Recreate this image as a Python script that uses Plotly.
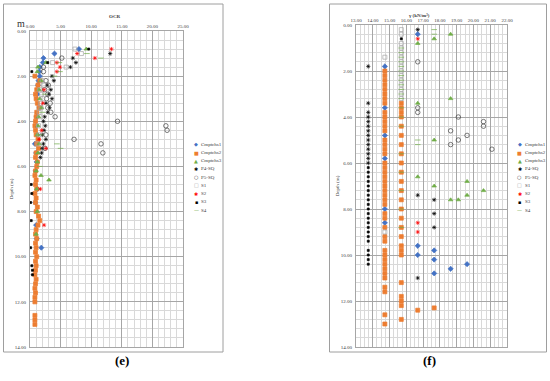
import plotly.graph_objects as go

# ---------------- DATA : left panel (OCR) ----------------
L_cm1_d = [0.8, 1.0, 1.2, 1.4, 1.6, 1.8, 2.0, 2.2, 2.4, 2.8, 3.4, 3.8, 4.2, 4.6, 5.0, 5.4, 5.8, 6.2, 7.0, 7.6, 8.6, 9.2, 9.6]
L_cm1_x = [8.0, 4.0, 2.2, 2.1, 1.6, 1.5, 1.6, 1.4, 1.3, 1.2, 1.6, 1.1, 1.0, 1.2, 0.8, 1.0, 1.1, 0.9, 1.2, 0.9, 1.0, 1.1, 1.85]

L_cm2_d = [2.0, 2.2, 2.4, 2.6, 2.8, 3.0, 3.2, 3.4, 3.6, 3.8, 4.0, 4.2, 4.4, 4.6, 4.8, 5.0, 5.2, 5.4, 5.6, 5.8,
           6.0, 6.2, 6.4, 6.6, 6.8, 7.0, 7.2, 7.4, 7.6, 7.8, 8.0, 8.2, 8.4, 8.6, 8.8, 9.0, 9.2, 9.4, 9.6, 9.8,
           10.0, 10.2, 10.4, 10.6, 10.8, 11.0, 11.2, 11.4, 11.6, 11.8, 12.0, 12.6, 12.8, 13.0]
L_cm2_x = [0.8, 1.6, 1.3, 1.1, 0.9, 1.0, 1.2, 1.5, 1.1, 1.0, 0.9, 0.8, 0.9, 1.0, 1.3, 1.1, 1.4, 1.0, 0.9, 1.2,
           1.1, 0.9, 0.8, 1.0, 0.9, 1.1, 0.8, 1.0, 0.9, 1.2, 1.0, 1.4, 1.6, 1.3, 1.0, 0.9, 1.1, 0.9, 1.0, 0.9,
           1.1, 0.9, 1.0, 0.9, 0.8, 1.0, 0.9, 0.8, 0.9, 0.8, 0.8, 0.8, 0.8, 0.8]

L_cm3_d = [0.8, 1.4, 1.6, 1.8, 2.2, 2.6, 3.0, 3.4, 3.8, 4.2, 4.6, 5.0, 5.4, 5.8, 6.2, 6.4, 6.6, 7.0, 8.0, 9.0]
L_cm3_x = [9.2, 2.6, 1.3, 1.2, 1.8, 1.5, 1.6, 1.9, 1.4, 1.3, 1.2, 1.5, 1.3, 1.2, 1.0, 1.8, 3.1, 1.1, 1.2, 1.0]

L_p4_d = [1.0, 1.2, 1.4, 1.6, 2.0, 2.2, 2.4, 2.6, 2.8, 3.0, 3.2, 3.4, 3.6, 3.8, 4.0, 4.2, 4.4, 4.6, 4.8, 5.0, 5.2, 5.4, 5.6]
L_p4_x = [13.1, 7.0, 7.5, 6.6, 3.6, 3.9, 2.8, 3.4, 3.1, 3.6, 2.6, 3.2, 2.9, 2.4, 2.2, 2.5, 2.3, 2.0, 2.6, 2.2, 2.0, 1.9, 1.7]

L_p5_d = [1.2, 1.6, 1.8, 2.2, 2.4, 2.6, 2.8, 3.0, 3.2, 3.4, 3.6, 3.8, 4.0, 4.2, 4.4, 4.6, 4.8, 5.0, 5.2, 5.4]
L_p5_x = [5.2, 2.2, 2.2, 2.6, 3.0, 2.4, 2.9, 2.7, 3.3, 2.9, 3.4, 4.1, 14.3, 22.2, 22.4, 2.6, 7.2, 11.6, 2.45, 11.9]

L_s1_d = [0.8, 1.0, 1.4, 1.6, 2.2, 2.4, 2.6, 2.8, 3.0, 3.2, 3.4, 3.6, 3.8, 4.2, 4.6, 5.0]
L_s1_x = [7.35, 8.4, 3.7, 5.9, 2.0, 2.2, 1.6, 1.9, 2.1, 1.7, 1.8, 1.5, 1.6, 1.4, 1.5, 1.3]

L_s2_d = [0.8, 1.0, 1.2, 1.4, 1.6, 1.8, 2.6, 3.2, 4.4, 4.8, 5.2, 7.0, 8.6]
L_s2_x = [13.3, 7.7, 10.6, 4.4, 4.9, 4.4, 2.3, 2.1, 1.9, 1.5, 2.6, 1.7, 2.3]

L_s3_d = [0.8, 1.4, 1.8, 6.8, 7.2, 7.6, 8.4, 9.6, 10.4, 10.6, 10.8]
L_s3_x = [9.6, 2.9, 0.3, 0.2, 0.3, 0.1, 0.2, 0.1, 0.3, 0.4, 0.4]

L_s4_d = [1.0, 1.2, 1.4, 1.8, 2.0, 2.8, 3.6, 4.6, 5.0, 5.2, 6.0]
L_s4_x = [9.3, 11.6, 4.8, 4.9, 4.0, 2.4, 2.0, 1.7, 4.4, 5.0, 1.6]

# ---------------- DATA : right panel (unit weight) ----------------
R_cm1_d = [0.4, 1.8, 3.6, 4.8, 5.8, 8.0, 8.6, 9.6, 9.8, 10.0, 10.2, 10.4, 10.6, 10.8]
R_cm1_x = [16.68, 14.72, 14.72, 14.72, 14.72, 14.72, 14.72, 16.68, 17.66, 16.68, 17.66, 19.62, 18.64, 17.66]

R_cm2_d = [2.0, 2.2, 2.4, 2.6, 2.8, 3.0, 3.2, 3.4, 3.8, 4.0, 4.2, 4.4, 4.6, 5.0, 5.2, 5.4, 5.6, 6.0, 6.2, 6.4,
           6.6, 6.8, 7.0, 7.2, 7.4, 7.6, 7.8, 8.2, 8.4, 8.8, 9.2, 9.4, 9.8, 10.0, 10.2, 10.4, 10.6, 10.8, 11.0,
           11.4, 11.6, 12.6, 13.0,
           3.4, 3.6, 3.8, 4.0, 4.4, 4.8, 5.2, 5.6, 6.0, 6.4, 6.8, 7.2, 7.6, 8.0, 8.4, 8.8, 9.2, 9.6, 9.8, 10.0,
           11.2, 11.8, 12.0, 12.2, 12.8, 12.4, 12.3]
R_cm2_x = [14.72] * 43 + [15.70] * 25 + [16.68, 17.66]

R_cm3_d = [0.4, 0.6, 0.8, 3.2, 3.4, 5.0, 6.6, 7.0, 7.6, 7.6, 7.4, 6.8, 7.2]
R_cm3_x = [18.64, 17.66, 16.68, 18.64, 16.68, 17.66, 16.68, 17.66, 18.64, 19.1, 19.62, 19.62, 20.60]

R_p4_d = [1.8, 3.4, 3.8, 4.0, 4.2, 4.4, 4.6, 4.8, 5.0, 5.2, 5.4, 5.6, 5.8, 6.0, 0.2, 7.4, 7.6, 8.2, 8.8, 11.0]
R_p4_x = [13.73] * 14 + [16.68, 16.68, 17.66, 17.66, 17.66, 16.68]

R_p5_d = [1.6, 3.6, 3.8, 4.0, 4.2, 4.4, 4.6, 4.8, 5.0, 5.2, 5.4]
R_p5_x = [16.68, 16.68, 16.68, 19.1, 20.6, 20.6, 18.64, 19.62, 19.1, 18.64, 21.1]

R_s1_d = [0.2, 0.4, 0.8, 1.0, 1.2, 1.4, 1.6, 1.8, 2.0, 2.2, 2.4, 2.6, 2.8, 3.0, 3.2, 1.4, 9.0]
R_s1_x = [15.70] * 15 + [14.72, 14.72]

R_s2_d = [0.6, 8.6, 9.0]
R_s2_x = [16.68, 16.68, 16.68]

R_s3_d = [6.2, 6.4, 6.6, 6.8, 7.0, 7.2, 7.4, 7.6, 7.8, 8.0, 8.2, 8.4, 8.6, 8.8, 9.0, 9.2, 9.4, 9.8, 10.0, 10.2, 10.4, 0.6]
R_s3_x = [13.73] * 21 + [15.70]

R_s4_d = [0.2, 0.4, 5.0, 5.2, 1.0, 1.2, 1.4, 1.6, 1.8, 2.0, 2.2, 2.4, 2.6, 2.8, 3.0, 3.2, 3.6, 4.0, 4.4, 5.6, 6.4, 7.2, 8.0, 8.8]
R_s4_x = [17.66, 17.66, 16.68, 16.68] + [15.70] * 20

names = ["Cmptchs1", "Cmptchs2", "Cmptchs3", "P4-SQ", "P5-SQ", "S1", "S2", "S3", "S4"]
colors = ["#4472C4", "#ED7D31", "#70AD47", "#000000", "#404040", "#A5A5A5", "#FF0000", "#000000", "#70AD47"]
symbols = ["diamond", "square", "triangle-up", "asterisk-open", "circle-open", "square-open", "asterisk-open", "square", "line-ew-open"]
sizes = [4, 4, 4, 3.5, 4.5, 4, 3.5, 2, 4]
legend_glyph = ["◆", "■", "▲", "✱", "○", "□", "✱", "▪", "—"]

left_sets = [(L_cm1_x, L_cm1_d), (L_cm2_x, L_cm2_d), (L_cm3_x, L_cm3_d), (L_p4_x, L_p4_d), (L_p5_x, L_p5_d),
             (L_s1_x, L_s1_d), (L_s2_x, L_s2_d), (L_s3_x, L_s3_d), (L_s4_x, L_s4_d)]
right_sets = [(R_cm1_x, R_cm1_d), (R_cm2_x, R_cm2_d), (R_cm3_x, R_cm3_d), (R_p4_x, R_p4_d), (R_p5_x, R_p5_d),
              (R_s1_x, R_s1_d), (R_s2_x, R_s2_d), (R_s3_x, R_s3_d), (R_s4_x, R_s4_d)]

W, H = 550, 381
def px(x): return x / W
def py(y): return 1 - y / H

fig = go.Figure()
for i, n in enumerate(names):
    for (xs, ds), xa, ya in [(left_sets[i], "x", "y"), (right_sets[i], "x2", "y2")]:
        fig.add_trace(go.Scatter(
            x=xs, y=ds, mode="markers", name=n, showlegend=False, xaxis=xa, yaxis=ya,
            marker=dict(symbol=symbols[i], size=sizes[i], color=colors[i],
                        line=dict(width=0.7, color=colors[i]))))

FONT = "Liberation Serif"
grid_major = "#A6A6A6"
grid_minor = "#D9D9D9"
common = dict(showgrid=True, gridcolor=grid_major, gridwidth=0.8, zeroline=False, ticks="",
              showline=True, linecolor=grid_major, linewidth=0.8, mirror=True, automargin=False,
              tickfont=dict(size=5, family=FONT, color="#404040"), tickformat=".2f")

fig.update_layout(
    width=W, height=H, margin=dict(l=0, r=0, t=0, b=0, autoexpand=False),
    paper_bgcolor="white", plot_bgcolor="white", showlegend=False,
    xaxis=dict(domain=[px(30), px(183)], range=[0, 25], dtick=5, side="top", anchor="y",
               minor=dict(dtick=1, showgrid=True, gridcolor=grid_minor, gridwidth=0.6), **common),
    yaxis=dict(domain=[py(347), py(31)], range=[14, 0], dtick=2, anchor="x", ticklabelstandoff=2,
               minor=dict(dtick=0.4, showgrid=True, gridcolor=grid_minor, gridwidth=0.6),
               title=dict(text="Depth (m)", font=dict(size=5, family=FONT, color="#404040"), standoff=1),
               **common),
    xaxis2=dict(domain=[px(356), px(507)], range=[13, 22], dtick=1, side="top", anchor="y2",
                minor=dict(dtick=0.25, showgrid=True, gridcolor=grid_minor, gridwidth=0.6), **common),
    yaxis2=dict(domain=[py(347), py(25)], range=[14, 0], dtick=2, anchor="x2", ticklabelstandoff=2,
                minor=dict(dtick=0.4, showgrid=True, gridcolor=grid_minor, gridwidth=0.6),
                title=dict(text="Depth (m)", font=dict(size=5, family=FONT, color="#404040"), standoff=1),
                **common),
)

shapes = [
    dict(type="rect", xref="paper", yref="paper", x0=px(3.5), x1=px(223), y0=py(352), y1=py(4),
         line=dict(color="#9E9E9E", width=1), fillcolor="rgba(0,0,0,0)", layer="below"),
    dict(type="rect", xref="paper", yref="paper", x0=px(329.5), x1=px(546.5), y0=py(352), y1=py(4),
         line=dict(color="#9E9E9E", width=1), fillcolor="rgba(0,0,0,0)", layer="below"),
]
fig.update_layout(shapes=shapes)

ann = []
ann.append(dict(x=px(106.5), y=py(12), xref="paper", yref="paper", text="<b>OCR</b>", showarrow=False,
                font=dict(size=5, family=FONT, color="#404040")))
ann.append(dict(x=px(431.5), y=py(11), xref="paper", yref="paper", text="<b>γ (kN/m³)</b>", showarrow=False,
                font=dict(size=5, family=FONT, color="#404040")))
ann.append(dict(x=px(15), y=py(16), xref="paper", yref="paper", text="m", showarrow=False,
                font=dict(size=10, family=FONT, color="#333333")))
ann.append(dict(x=px(113), y=py(370), xref="paper", yref="paper", text="<b>(e)</b>", showarrow=False,
                font=dict(size=13, family=FONT, color="#000000")))
ann.append(dict(x=px(438), y=py(370), xref="paper", yref="paper", text="<b>(f)</b>", showarrow=False,
                font=dict(size=13, family=FONT, color="#000000")))

legend_rows = [144.3, 152.5, 160.7, 169.0, 177.2, 185.4, 193.6, 201.8, 210.0]
for mx in (196, 519.5):
    for i, n in enumerate(names):
        ann.append(dict(x=px(mx), y=py(legend_rows[i]), xref="paper", yref="paper", text=legend_glyph[i],
                        showarrow=False, xanchor="center",
                        font=dict(size=5, family="DejaVu Sans", color=colors[i])))
        ann.append(dict(x=px(mx + 3), y=py(legend_rows[i]), xref="paper", yref="paper", text=n,
                        showarrow=False, xanchor="left",
                        font=dict(size=5, family=FONT, color="#404040")))
fig.update_layout(annotations=ann)

fig.write_html("out.html", config={"displayModeBar": False},
               post_script="document.body.style.margin='0';document.body.style.padding='0';")
